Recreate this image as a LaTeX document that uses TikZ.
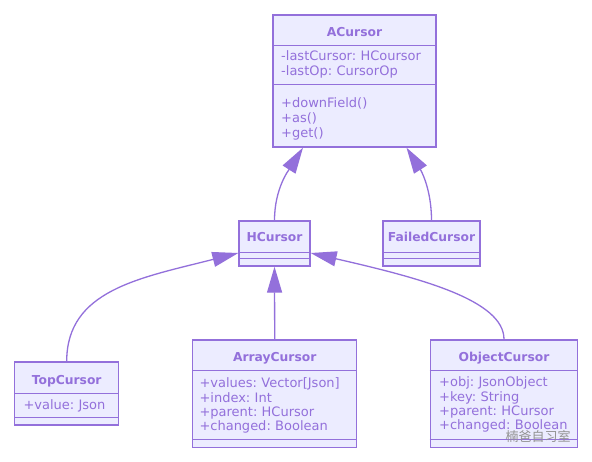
\documentclass[tikz,border=0pt]{standalone}
\usepackage{fontspec}
\setmainfont{DejaVu Sans}
\newfontfamily\cjkfont{Noto Sans CJK SC}
\usetikzlibrary{arrows.meta}
\definecolor{umlline}{HTML}{9370DB}
\definecolor{umlfill}{HTML}{ECECFF}
\frenchspacing
\begin{document}
\begin{tikzpicture}[x=1pt,y=-1pt,
  box/.style={draw=umlline, fill=umlfill, line width=1.3pt, inner sep=0pt},
  title/.style={font=\fontsize{12.3}{14}\selectfont\bfseries, text=umlline, anchor=base, inner sep=0pt},
  member/.style={font=\fontsize{13}{14.4}\selectfont, text=umlline, anchor=base west, inner sep=0pt, text width=160pt, align=left},
  sepline/.style={draw=umlline, line width=1.3pt},
  inherit/.style={draw=umlline, line width=1.3pt, -{Triangle[length=26pt,width=15pt,fill=umlline]}}]
\fill[white] (0,0) rectangle (592,462);
\useasboundingbox (0,0) rectangle (592,462);

% class boxes
\node[box, minimum width=163pt, minimum height=132pt] (A) at (354.5,81) {};
\node[box, minimum width=71pt, minimum height=45pt] (H) at (274.5,243.5) {};
\node[box, minimum width=97pt, minimum height=45pt] (F) at (431.5,243.5) {};
\node[box, minimum width=104pt, minimum height=63pt] (T) at (66.7,393.5) {};
\node[box, minimum width=164pt, minimum height=107.3pt] (Ar) at (274.7,393.65) {};
\node[box, minimum width=147.4pt, minimum height=107.3pt] (O) at (504,393.65) {};

% separators
\draw[sepline] ([yshift=-31pt]A.north west) -- ([yshift=-31pt]A.north east);
\draw[sepline] ([yshift=-70pt]A.north west) -- ([yshift=-70pt]A.north east);
\draw[sepline] ([yshift=-32pt]H.north west) -- ([yshift=-32pt]H.north east);
\draw[sepline] ([yshift=-38.5pt]H.north west) -- ([yshift=-38.5pt]H.north east);
\draw[sepline] ([yshift=-32pt]F.north west) -- ([yshift=-32pt]F.north east);
\draw[sepline] ([yshift=-38.5pt]F.north west) -- ([yshift=-38.5pt]F.north east);
\draw[sepline] ([yshift=-32.3pt]T.north west) -- ([yshift=-32.3pt]T.north east);
\draw[sepline] ([yshift=-56.3pt]T.north west) -- ([yshift=-56.3pt]T.north east);
\draw[sepline] ([yshift=-31pt]Ar.north west) -- ([yshift=-31pt]Ar.north east);
\draw[sepline] ([yshift=-100pt]Ar.north west) -- ([yshift=-100pt]Ar.north east);
\draw[sepline] ([yshift=-31.5pt]O.north west) -- ([yshift=-31.5pt]O.north east);
\draw[sepline] ([yshift=-100pt]O.north west) -- ([yshift=-100pt]O.north east);

% titles
\node[title] (At) at (354.5,36.5) {ACursor};
\node[title] (Ht) at (274.5,242) {HCursor};
\node[title] (Ft) at (431.5,242) {FailedCursor};
\node[title] (Tt) at (66.7,384.5) {TopCursor};
\node[title] (Art) at (274.7,362) {ArrayCursor};
\node[title] (Ot) at (504,362) {ObjectCursor};

% members
\node[member] (Aa) at (281,61) {-lastCursor: HCoursor\\[0.6pt]-lastOp: CursorOp};
\node[member] (Am) at (281,108) {+downField()\\[0.6pt]+as()\\[0.6pt]+get()};
\node[member] (Ta) at (23.3,409.3) {+value: Json};
\node[member] (Ara) at (199.3,387.7) {+values: Vector[Json]\\+index: Int\\+parent: HCursor\\+changed: Boolean};
\node[member] (Oa) at (439,386.7) {+obj: JsonObject\\+key: String\\+parent: HCursor\\+changed: Boolean};

% inheritance connectors
\draw[inherit] (H.north) .. controls +(0,-32) and +(-14,22) .. ([xshift=-51.5pt]A.south);
\draw[inherit] (F.north) .. controls +(0,-32) and +(14,22) .. ([xshift=52pt]A.south);
\draw[inherit] (Ar.north) -- (H.south);
\draw[inherit] (T.north) .. controls (66.7,290) and (140,278) .. ([yshift=-9.5pt]H.west);
\draw[inherit] (O.north) .. controls (504,300) and (420,278) .. ([yshift=-9.5pt]H.east);

% watermark
\node[font=\cjkfont\fontsize{13}{14}\selectfont, text=gray!85, inner sep=0pt] (wm) at (538,437) {楠爸自习室};
\end{tikzpicture}
\end{document}
